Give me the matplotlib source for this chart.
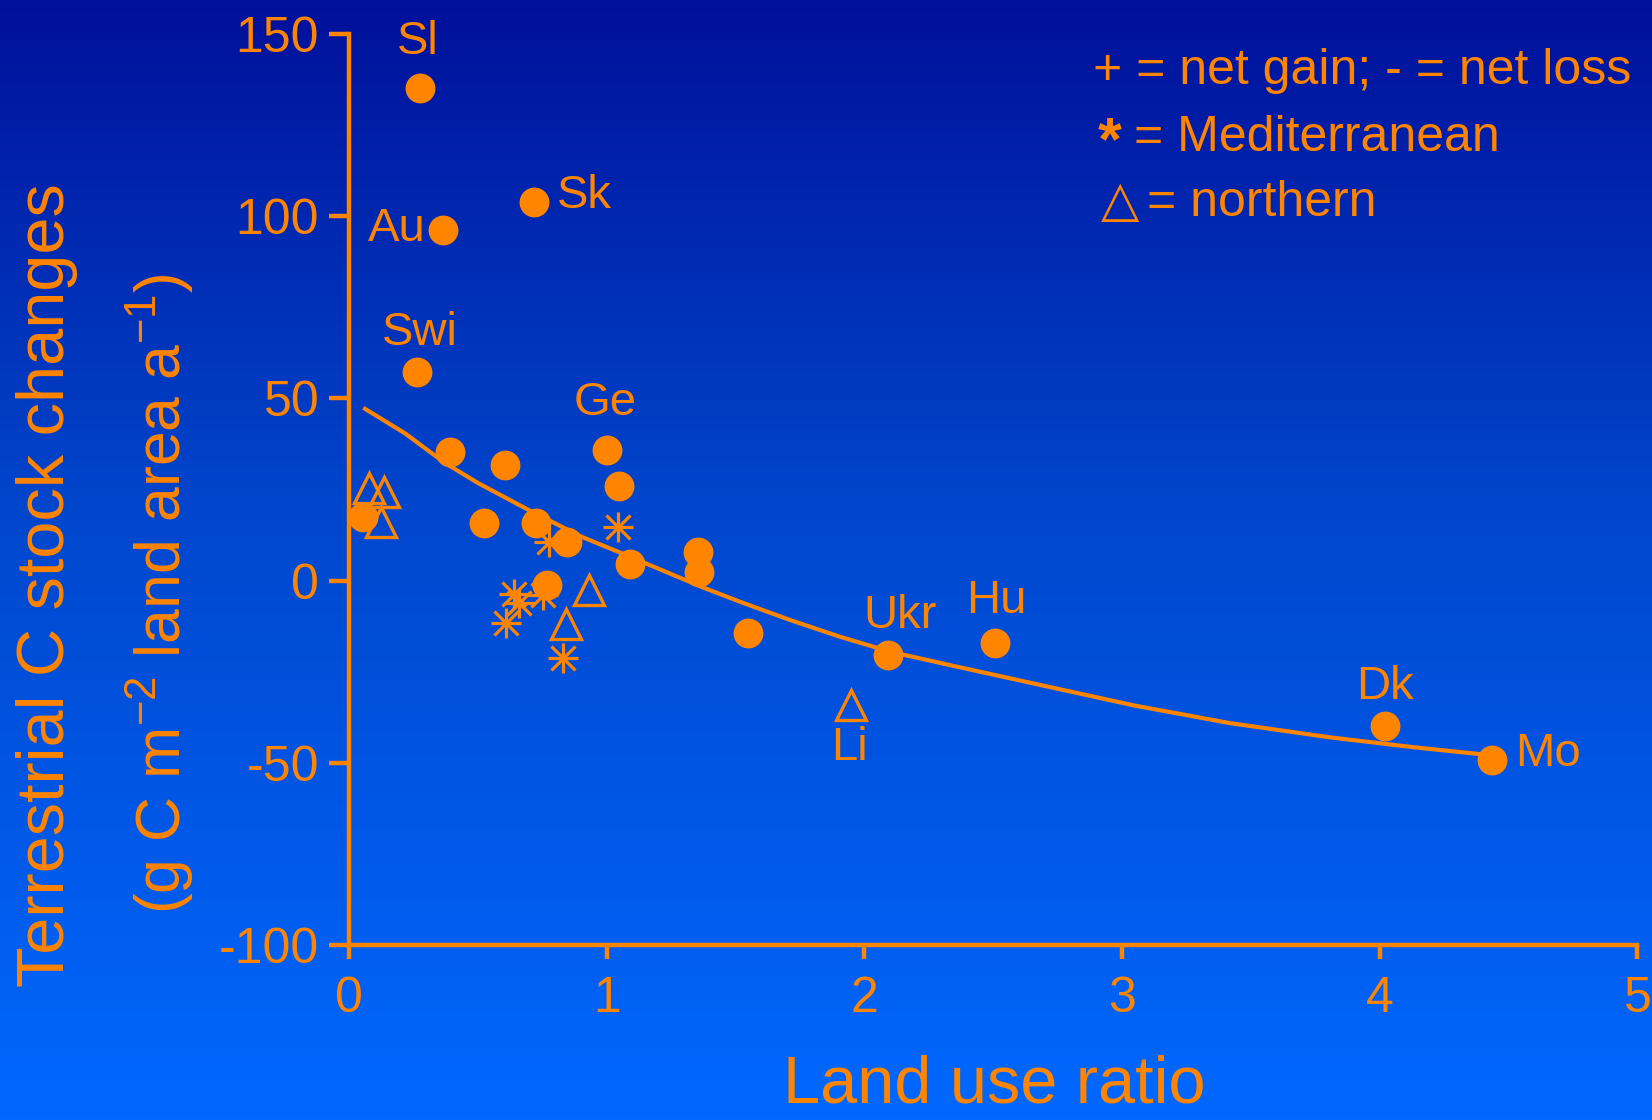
import numpy as np
import matplotlib
matplotlib.use('Agg')
from matplotlib import pyplot as plt
from matplotlib.colors import LinearSegmentedColormap

plt.rcParams['font.family'] = ['Liberation Sans', 'DejaVu Sans']
plt.rcParams['mathtext.fontset'] = 'custom'
plt.rcParams['mathtext.rm'] = 'Liberation Sans'
plt.rcParams['mathtext.it'] = 'Liberation Sans'
plt.rcParams['axes.unicode_minus'] = False

ORANGE = '#FF8400'

# filled circles: net change per country
circ_x = [0.277, 0.719, 0.363, 0.265, 0.392, 0.605, 1.0, 1.049, 0.056, 0.525,
          0.725, 0.845, 1.089, 1.355, 1.359, 0.767, 1.55, 2.093, 2.507, 4.020, 4.434]
circ_y = [135.0, 103.8, 96.2, 57.2, 35.4, 31.7, 35.8, 25.9, 17.5, 15.7,
          15.7, 10.7, 4.5, 7.9, 2.4, -1.2, -14.5, -20.4, -17.0, -39.9, -49.2]

# Mediterranean (asterisks)
med_x = [1.042, 0.774, 0.639, 0.658, 0.610, 0.752, 0.832]
med_y = [14.6, 10.7, -3.7, -6.1, -11.7, -4.0, -21.3]

# northern (triangles)
nor_x = [0.076, 0.134, 0.124, 0.933, 0.843, 1.948]
nor_y = [25.3, 24.4, 16.2, -2.6, -11.9, -34.1]

# fitted curve
fit_x = [0.062, 0.217, 0.373, 0.502, 0.696, 0.903, 1.058, 1.381, 1.517, 1.711,
         1.905, 2.099, 2.358, 2.681, 3.05, 3.419, 3.807, 4.130, 4.389]
fit_y = [47.1, 40.4, 32.2, 26.7, 19.4, 12.0, 7.5, -2.1, -5.8, -10.8,
         -15.4, -19.5, -23.6, -28.6, -34.3, -39.1, -43.0, -45.7, -47.6]

lab_text = ['Sl', 'Sk', 'Au', 'Swi', 'Ge', 'Ukr', 'Hu', 'Dk', 'Mo', 'Li']
lab_x = [0.266, 0.912, 0.184, 0.274, 0.993, 2.138, 2.51, 4.019, 4.652, 1.942]
lab_y = [147.7, 105.5, 96.5, 67.9, 48.6, -9.8, -5.5, -29.2, -47.7, -46.0]

fig = plt.figure(figsize=(16.52, 11.2), dpi=100)

# background gradient
bg = fig.add_axes([0, 0, 1, 1], zorder=0)
cmap = LinearSegmentedColormap.from_list(
    'bg', [(0.0, '#00109A'), (0.45, '#0046CC'), (1.0, '#0068FF')])
bg.imshow(np.linspace(0, 1, 256).reshape(-1, 1), aspect='auto', cmap=cmap,
          extent=[0, 1, 0, 1], origin='upper')
bg.axis('off')

ax = fig.add_axes([0.2113, 0.1561, 0.7799, 0.8138], zorder=1)
ax.patch.set_alpha(0)

ax.plot(fit_x, fit_y, color=ORANGE, lw=3.0, zorder=2, solid_joinstyle='round')
ax.plot(circ_x, circ_y, 'o', ms=21.5, color=ORANGE, mec='none', zorder=3)
ax.plot(med_x, med_y, '+', ms=21, mew=2.3, color=ORANGE, zorder=3)
ax.plot(med_x, med_y, 'x', ms=17.5, mew=2.3, color=ORANGE, zorder=3)
ax.plot(nor_x, nor_y, '^', ms=22, mew=2.4, mfc='none', mec=ORANGE, zorder=3)

for t, x, y in zip(lab_text, lab_x, lab_y):
    ax.text(x, y, t, color=ORANGE, fontsize=34, ha='center', va='center')

ax.set_xlim(0, 5)
ax.set_ylim(-100, 150)
ax.set_xticks([0, 1, 2, 3, 4, 5])
ax.set_yticks([-100, -50, 0, 50, 100, 150])
for s in ['top', 'right']:
    ax.spines[s].set_visible(False)
for s in ['left', 'bottom']:
    ax.spines[s].set_color(ORANGE)
    ax.spines[s].set_linewidth(3.2)
ax.tick_params(axis='both', colors=ORANGE, width=3.2, labelsize=36)
ax.tick_params(axis='y', length=14.5, pad=7)
ax.tick_params(axis='x', length=10, pad=12)

fig.text(0.602, 0.031, 'Land use ratio', color=ORANGE, fontsize=48,
         ha='center', va='center')
fig.text(0.0285, 0.478, 'Terrestrial C stock changes', color=ORANGE,
         fontsize=48, rotation=90, ha='center', va='center')
fig.text(0.097, 0.470, r'(g C m$^{-2}$ land area a$^{-1}$)', color=ORANGE,
         fontsize=45, rotation=90, ha='center', va='center')

fig.text(0.6616, 0.937, '+ = net gain; - = net loss', color=ORANGE,
         fontsize=36, ha='left', va='center')
fig.text(0.672, 0.872, '*', color=ORANGE, fontsize=44, fontweight='bold',
         ha='center', va='center')
fig.text(0.6865, 0.877, '= Mediterranean', color=ORANGE,
         fontsize=36, ha='left', va='center')
fig.text(0.6665, 0.819, '\u25b3', color=ORANGE,
         fontsize=36, ha='left', va='center')
fig.text(0.6945, 0.819, '= northern', color=ORANGE,
         fontsize=36, ha='left', va='center')

fig.savefig('out.png', dpi=100)
